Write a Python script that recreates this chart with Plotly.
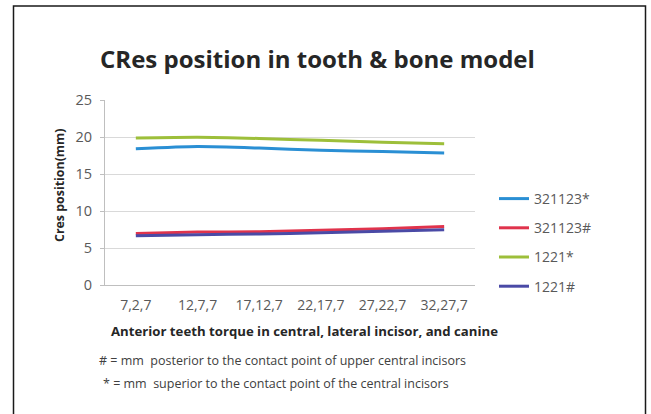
import plotly.graph_objects as go

categories = ["7,2,7", "12,7,7", "17,12,7", "22,17,7", "27,22,7", "32,27,7"]
s_321123_star = [18.4, 18.7, 18.5, 18.2, 18.05, 17.85]
s_321123_hash = [6.95, 7.15, 7.2, 7.4, 7.6, 7.9]
s_1221_star = [19.85, 19.95, 19.8, 19.55, 19.3, 19.1]
s_1221_hash = [6.65, 6.8, 6.9, 7.05, 7.25, 7.45]
series_names = ["321123*", "321123#", "1221*", "1221#"]
series_colors = ["#2A8FD4", "#E0334C", "#9DBF3A", "#4A4AA6"]
y_ticks = [0, 5, 10, 15, 20, 25]

FONT = "Open Sans"
fig = go.Figure()
for i, (name, vals, col) in enumerate(zip(series_names,
                                          [s_321123_star, s_321123_hash, s_1221_star, s_1221_hash],
                                          series_colors)):
    fig.add_trace(go.Scatter(x=categories, y=vals, name=name, mode="lines",
                             line=dict(color=col, width=3, shape="spline", smoothing=0.6),
                             legendgroup=f"g{i}"))

L, R, T, B = 105, 475, 100, 285
W, H = 651, 414
pw, ph = R - L, B - T

def px(x):
    return (x - L) / pw

def py(y):
    return (B - y) / ph

fig.update_layout(
    width=W, height=H, autosize=False,
    margin=dict(l=L, r=W - R, t=T, b=H - B, pad=0),
    paper_bgcolor="white", plot_bgcolor="white",
    font=dict(family=FONT, color="#595959", size=13),
    showlegend=True,
    legend=dict(x=px(494), y=py(183), xanchor="left", yanchor="top",
                font=dict(family=FONT, size=14, color="#595959"),
                tracegroupgap=8, itemwidth=30, bgcolor="rgba(0,0,0,0)"),
    xaxis=dict(type="category", range=[-0.5, 5.5], showgrid=False,
               showline=True, linecolor="#BFBFBF", linewidth=1,
               ticks="", tickfont=dict(family=FONT, size=14, color="#595959"),
               ticklabelstandoff=7, fixedrange=True),
    yaxis=dict(range=[0, 25], tickvals=y_ticks, showgrid=True, gridcolor="#D9D9D9",
               gridwidth=1, showline=True, linecolor="#BFBFBF", linewidth=1,
               ticks="outside", ticklen=4, tickcolor="#BFBFBF",
               tickfont=dict(family=FONT, size=14.5, color="#595959"),
               ticklabelstandoff=5, zeroline=False, fixedrange=True),
    annotations=[
        dict(text="<b>CRes position in tooth & bone model</b>", x=px(317), y=py(58),
             xref="paper", yref="paper", showarrow=False, xanchor="center", yanchor="middle",
             font=dict(family=FONT, size=24, color="#262626")),
        dict(text="<b>Cres position(mm)</b>", x=px(59), y=py(186), textangle=-90,
             xref="paper", yref="paper", showarrow=False, xanchor="center", yanchor="middle",
             font=dict(family=FONT, size=12.4, color="#262626")),
        dict(text="<b>Anterior teeth torque in central, lateral incisor, and canine</b>",
             x=px(304), y=py(331), xref="paper", yref="paper", showarrow=False,
             xanchor="center", yanchor="middle",
             font=dict(family=FONT, size=13.2, color="#262626")),
        dict(text="# = mm  posterior to the contact point of upper central incisors",
             x=px(97), y=py(360), xref="paper", yref="paper", showarrow=False,
             xanchor="left", yanchor="middle",
             font=dict(family=FONT, size=12.5, color="#404040")),
        dict(text="* = mm  superior to the contact point of the central incisors",
             x=px(101), y=py(383), xref="paper", yref="paper", showarrow=False,
             xanchor="left", yanchor="middle",
             font=dict(family=FONT, size=12.5, color="#404040")),
    ],
    shapes=[dict(type="rect", xref="paper", yref="paper",
                 x0=px(13.5), x1=px(645.5), y0=py(6), y1=py(430),
                 line=dict(color="#1a1a1a", width=1.5), fillcolor="rgba(0,0,0,0)", layer="below")],
)

fig.write_html("out.html", config={"displayModeBar": False},
               post_script="document.body.style.margin='0';document.body.style.overflow='hidden';")
